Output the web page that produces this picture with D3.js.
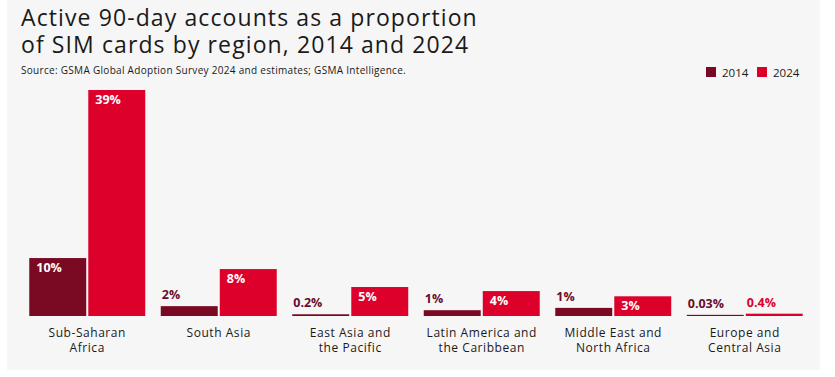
<!DOCTYPE html>
<html lang="en">
<head>
<meta charset="UTF-8">
<script src="https://d3js.org/d3.v7.min.js"></script>
<title>Active 90-day accounts</title>
<style>
  body { margin: 0; background: #fff; }
  text { font-family: "Open Sans", sans-serif; }
</style>
</head>
<body>
<svg id="mainsvg" width="835" height="377"></svg>
<script>
// data
const regions = [
  ['Sub-Saharan', 'Africa'],
  ['South Asia'],
  ['East Asia and', 'the Pacific'],
  ['Latin America and', 'the Caribbean'],
  ['Middle East and', 'North Africa'],
  ['Europe and', 'Central Asia']
]
const years = ['2014', '2024']
const values2014 = [10, 1.7, 0.3, 1, 1.4, 0.2]
const values2024 = [39, 8.1, 5, 4.3, 3.4, 0.4]
const labels2014 = ['10%', '2%', '0.2%', '1%', '1%', '0.03%']
const labels2024 = ['39%', '8%', '5%', '4%', '3%', '0.4%']

const colors = { '2014': '#7a0a24', '2024': '#dc002b' }

const svg = d3.select('#mainsvg')

// panel background
svg.append('rect')
  .attr('x', 7).attr('y', 0)
  .attr('width', 813).attr('height', 370)
  .attr('fill', '#f6f6f6')

// title + source
const title = svg.append('text')
  .attr('x', 21).attr('fill', '#1a1a1a')
  .style('font-size', '23px')
  .style('letter-spacing', '1.1px')
title.append('tspan').attr('x', 21).attr('y', 26).text('Active 90-day accounts as a proportion')
title.append('tspan').attr('x', 21).attr('y', 53).text('of SIM cards by region, 2014 and 2024')

svg.append('text')
  .attr('x', 21).attr('y', 74)
  .attr('fill', '#1a1a1a')
  .style('font-size', '10px')
  .style('letter-spacing', '0.3px')
  .text('Source: GSMA Global Adoption Survey 2024 and estimates; GSMA Intelligence.')

// legend
const legend = svg.append('g')
years.forEach((y, i) => {
  const lg = legend.append('g').attr('transform', `translate(${706 + i * 51}, 67)`)
  lg.append('rect').attr('width', 10).attr('height', 10).attr('fill', colors[y])
  lg.append('text').attr('x', 16).attr('y', 9.5)
    .attr('fill', '#1a1a1a').style('font-size', '11.5px').text(y)
})

// scales
const baseline = 316
const x0 = d3.scaleBand()
  .domain(d3.range(regions.length))
  .range([21.5, 810.5])
  .paddingInner(0.118)
  .paddingOuter(0.059)

const x1 = d3.scaleBand()
  .domain(years)
  .range([0, x0.bandwidth()])
  .paddingInner(0.035)

const yScale = d3.scaleLinear()
  .domain([0, 39])
  .range([baseline, 90])

const rows = regions.map((r, i) => ({
  region: r,
  bars: [
    { year: '2014', value: values2014[i], label: labels2014[i] },
    { year: '2024', value: values2024[i], label: labels2024[i] }
  ]
}))

const groups = svg.selectAll('g.group')
  .data(rows)
  .enter()
  .append('g')
  .attr('class', 'group')
  .attr('transform', (d, i) => `translate(${x0(i)}, 0)`)

groups.selectAll('rect')
  .data(d => d.bars)
  .enter()
  .append('rect')
  .attr('x', d => x1(d.year))
  .attr('y', d => yScale(d.value))
  .attr('width', x1.bandwidth())
  .attr('height', d => baseline - yScale(d.value))
  .attr('fill', d => colors[d.year])

// value labels: white inside tall bars, coloured above short ones
groups.selectAll('text.val')
  .data(d => d.bars)
  .enter()
  .append('text')
  .attr('class', 'val')
  .style('font-size', '12.5px')
  .style('font-weight', 700)
  .each(function (d) {
    const inside = baseline - yScale(d.value) > 18
    d3.select(this)
      .attr('x', x1(d.year) + (inside ? 7 : 1))
      .attr('y', inside ? yScale(d.value) + 14 : yScale(d.value) - 7)
      .attr('fill', inside ? '#fff' : (d.year === '2014' ? '#6b0c2c' : colors['2024']))
      .text(d.label)
  })

// category labels, one text per line
groups.selectAll('text.cat')
  .data(d => d.region)
  .enter()
  .append('text')
  .attr('class', 'cat')
  .attr('text-anchor', 'middle')
  .attr('fill', '#1a1a1a')
  .style('font-size', '12px')
  .style('letter-spacing', '0.55px')
  .attr('x', x0.bandwidth() / 2)
  .attr('y', (d, i) => 337 + i * 14.5)
  .text(d => d)
</script>
</body>
</html>
